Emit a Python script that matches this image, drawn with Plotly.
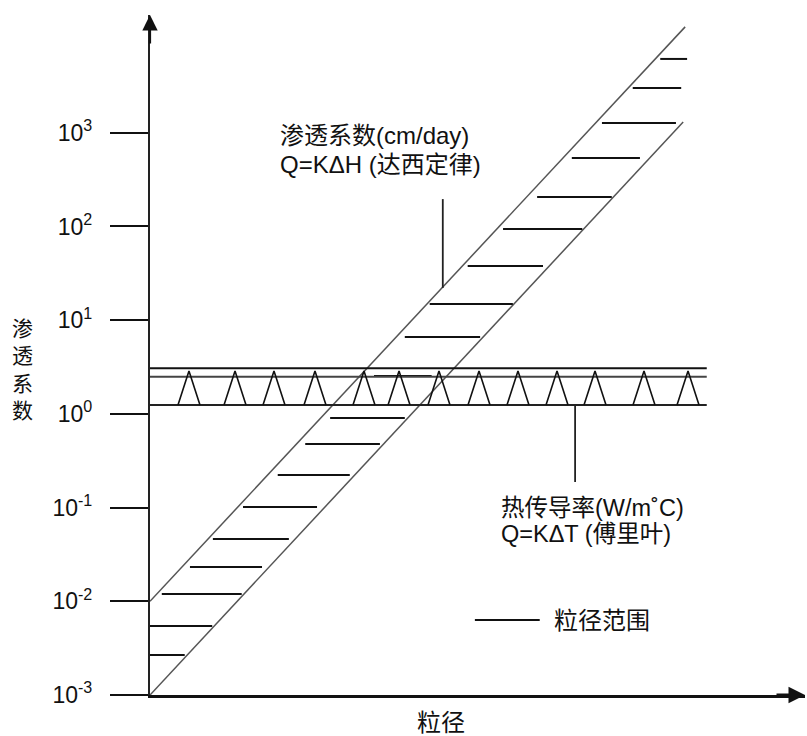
import numpy as np
import plotly.graph_objects as go

# ---------------- data ----------------
# log-scale y axis ticks (渗透系数)
y_tick_vals = [1e-3, 1e-2, 1e-1, 1e0, 1e1, 1e2, 1e3]
y_tick_text = ["10<sup>-3</sup>", "10<sup>-2</sup>", "10<sup>-1</sup>", "10<sup>0</sup>",
               "10<sup>1</sup>", "10<sup>2</sup>", "10<sup>3</sup>"]

# diagonal band of permeability (x = 粒径, arbitrary units 0-100)
upper_x = [0.0, 81.7]
upper_y = [1.0e-2, 1.35e4]
lower_x = [0.0, 81.4]
lower_y = [1.0e-3, 1.30e3]

# hatch segments inside the permeability band (粒径范围)
hatch_y = [0.00267, 0.00545, 0.01197, 0.0232, 0.0462, 0.1014, 0.223, 0.478, 0.904,
           2.54, 6.62, 14.9, 37.8, 94.0, 206.0, 538.0, 1274.0, 3006.0, 6138.0]
hatch_x0 = [0.0, 0.0, 1.8, 6.1, 9.6, 14.2, 19.5, 23.7, 27.5,
            34.2, 38.9, 42.7, 48.5, 53.9, 59.1, 64.4, 69.0, 73.7, 77.9]
hatch_x1 = [5.3, 9.5, 14.0, 17.1, 21.2, 25.5, 30.5, 35.1, 38.9,
            43.0, 50.4, 55.4, 60.0, 66.0, 70.5, 74.8, 80.3, 81.1, 82.0]

# horizontal band of thermal conductivity
band_x = [0.0, 85.0]
band_top1 = 3.07
band_top2 = 2.49
band_bottom = 1.245
tri_centers = [5.95, 12.98, 18.93, 25.19, 32.67, 38.02, 44.12, 50.23,
               56.18, 62.14, 67.94, 75.42, 82.14]
tri_apex = 2.87

# callout leader lines
darcy_callout_x = 44.7
darcy_callout_y = [22.1, 196.0]
fourier_callout_x = 64.9
fourier_callout_y = [0.1875, 1.245]

# legend sample
legend_line_x = [49.6, 59.5]
legend_y = 0.0063

darcy_lines = ["渗透系数(cm/day)", "Q=KΔH (达西定律)"]
darcy_pos = (19.5, [946.0, 464.0])
fourier_lines = ["热传导率(W/m˚C)", "Q=KΔT (傅里叶)"]
fourier_pos = (53.3, [0.099, 0.0523])
legend_label = "粒径范围"
x_title = "粒径"
y_title = "渗透系数"

# ---------------- figure ----------------
LAT = "Liberation Sans, Arial, Noto Sans CJK SC, sans-serif"
fig = go.Figure()

# diagonal boundaries
for xs, ys in [(upper_x, upper_y), (lower_x, lower_y)]:
    fig.add_trace(go.Scatter(x=xs, y=ys, mode="lines",
                             line=dict(color="#555555", width=1.5),
                             showlegend=False, hoverinfo="skip"))

# hatch
hx, hy = [], []
for y, a, b in zip(hatch_y, hatch_x0, hatch_x1):
    hx += [a, b, None]
    hy += [y, y, None]
fig.add_trace(go.Scatter(x=hx, y=hy, mode="lines",
                         line=dict(color="#111111", width=2),
                         showlegend=False, hoverinfo="skip"))

# horizontal band lines
for yv, col in [(band_top1, "#111111"), (band_top2, "#444444"), (band_bottom, "#222222")]:
    fig.add_trace(go.Scatter(x=band_x, y=[yv, yv], mode="lines",
                             line=dict(color=col, width=2),
                             showlegend=False, hoverinfo="skip"))

# triangles
half_w = 1.68
tx, ty = [], []
for c in tri_centers:
    tx += [c - half_w, c, c + half_w, None]
    ty += [band_bottom, tri_apex, band_bottom, None]
fig.add_trace(go.Scatter(x=tx, y=ty, mode="lines",
                         line=dict(color="#111111", width=1.6),
                         showlegend=False, hoverinfo="skip"))

# callout lines
fig.add_trace(go.Scatter(x=[darcy_callout_x] * 2, y=darcy_callout_y, mode="lines",
                         line=dict(color="#222222", width=1.8),
                         showlegend=False, hoverinfo="skip"))
fig.add_trace(go.Scatter(x=[fourier_callout_x] * 2, y=fourier_callout_y, mode="lines",
                         line=dict(color="#222222", width=1.8),
                         showlegend=False, hoverinfo="skip"))

# legend sample line
fig.add_trace(go.Scatter(x=legend_line_x, y=[legend_y] * 2, mode="lines",
                         line=dict(color="#111111", width=2),
                         showlegend=False, hoverinfo="skip"))

annos = []
for txt, yv in zip(darcy_lines, darcy_pos[1]):
    annos.append(dict(x=darcy_pos[0], y=np.log10(yv), xref="x", yref="y", text=txt,
                      showarrow=False, xanchor="left", yanchor="middle",
                      font=dict(family=LAT, size=24, color="#111111")))
for txt, yv in zip(fourier_lines, fourier_pos[1]):
    annos.append(dict(x=fourier_pos[0], y=np.log10(yv), xref="x", yref="y", text=txt,
                      showarrow=False, xanchor="left", yanchor="middle",
                      font=dict(family=LAT, size=23.5, color="#111111")))
annos.append(dict(x=legend_line_x[1] + 1.8, y=np.log10(legend_y), xref="x", yref="y",
                  text=legend_label, showarrow=False, xanchor="left", yanchor="middle",
                  font=dict(family=LAT, size=24, color="#111111")))
annos.append(dict(x=44.4, y=-0.041, xref="x", yref="paper", text=x_title,
                  showarrow=False, xanchor="center", yanchor="middle",
                  font=dict(family=LAT, size=24, color="#111111")))
annos.append(dict(x=-0.1954, y=0.479, xref="paper", yref="paper",
                  text="<br>".join(list(y_title)), showarrow=False,
                  xanchor="center", yanchor="middle",
                  font=dict(family=LAT, size=21, color="#111111")))
# axis arrows
annos.append(dict(x=0, y=1, xref="paper", yref="paper", text="", showarrow=True,
                  ax=0, ay=30, arrowhead=2, arrowsize=1.4, arrowwidth=2.2,
                  arrowcolor="#111111"))
annos.append(dict(x=1, y=0, xref="paper", yref="paper", text="", showarrow=True,
                  ax=-30, ay=0, arrowhead=2, arrowsize=1.1, arrowwidth=3,
                  arrowcolor="#111111"))

fig.update_layout(
    width=807, height=736,
    margin=dict(l=150, r=2, t=15, b=41),
    paper_bgcolor="white", plot_bgcolor="white",
    hovermode=False,
    annotations=annos,
    xaxis=dict(range=[0, 100], showgrid=False, zeroline=False, showticklabels=False,
               ticks="", showline=True, linecolor="#111111", linewidth=3),
    yaxis=dict(type="log", range=[-3, 4.257], showgrid=False, zeroline=False,
               tickvals=y_tick_vals, ticktext=y_tick_text, ticks="outside",
               ticklen=38, tickwidth=2, tickcolor="#111111",
               ticklabelstandoff=13,
               tickfont=dict(family=LAT, size=23, color="#111111"),
               showline=True, linecolor="#222222", linewidth=2.2),
)

fig.write_html("out.html", config={"displayModeBar": False},
               post_script="document.body.style.margin='0';")
